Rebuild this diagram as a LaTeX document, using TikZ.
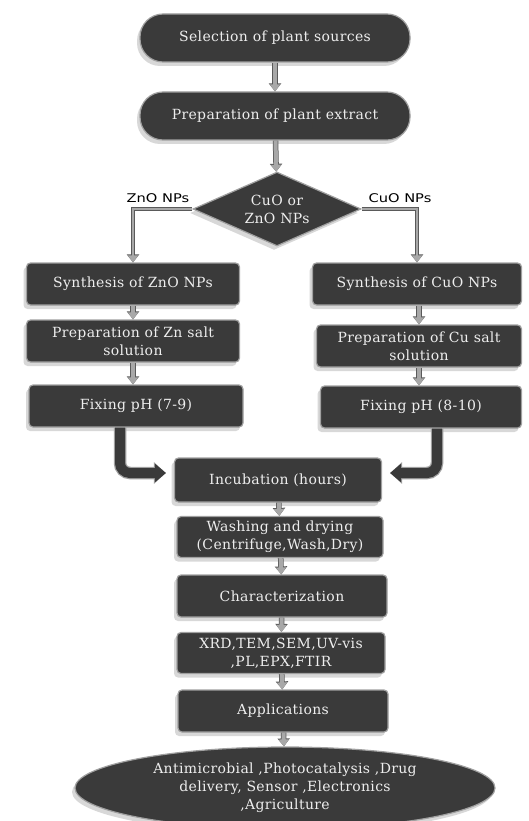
\documentclass[tikz,border=0pt]{standalone}
\usepackage{fontspec}
\setmainfont[LetterSpace=2.5]{DejaVu Serif}
\newfontfamily\labelfont[FakeStretch=1.22]{DejaVu Sans}
\usetikzlibrary{shapes.geometric,arrows.meta,shadows,calc}
\definecolor{boxfill}{HTML}{3A3A3A}
\definecolor{boxrim}{HTML}{A0A0A0}
\definecolor{txt}{HTML}{EEEEEE}
\definecolor{arrowfill}{HTML}{A8A8A8}
\definecolor{arrowline}{HTML}{5A5A5A}
\begin{document}
\begin{tikzpicture}[x=1pt,y=-1pt,
  base/.style={fill=boxfill, draw=boxrim, line width=1.2pt, text=txt,
    font=\fontsize{14}{18}\selectfont, align=center, inner sep=2pt,
    drop shadow={shadow xshift=-3pt,shadow yshift=-4pt,opacity=0.3,fill=gray}},
  box/.style={base, rectangle, rounded corners=4pt, minimum height=42pt},
  stadium/.style={base, rectangle, rounded corners=23pt, minimum width=270pt, minimum height=48pt},
  flow/.style={line width=4pt, draw=arrowfill, -{Triangle[length=7pt,width=10pt]},
    preaction={draw=arrowline, line width=5.5pt, -{Triangle[length=8pt,width=12pt]}}},
  thinflow/.style={line width=2.5pt, draw=arrowfill, -{Triangle[length=7pt,width=10pt]},
    preaction={draw=arrowline, line width=4pt, -{Triangle[length=8pt,width=12pt]}}},
  bigflow/.style={line width=10pt, draw=boxfill, rounded corners=10pt, -{Triangle[length=11pt,width=18pt]},
    preaction={draw=boxrim, line width=12.5pt, -{Triangle[length=12pt,width=21pt]}}},
  lab/.style={font=\labelfont\fontsize{12}{14}\selectfont, text=black}
]
\clip (0,0) rectangle (528,821);
\fill[white] (0,0) rectangle (528,821);

\node[stadium] (sel) at (275,38) {Selection of plant sources};
\node[stadium] (prep) at (275,116) {Preparation of plant extract};
\node[base, diamond, aspect=2.27, minimum width=168pt, minimum height=74pt, inner sep=0pt] (dia) at (277,209) {CuO or\\ZnO NPs};

\node[box, minimum width=213pt] (zno) at (133,284) {Synthesis of ZnO NPs};
\node[box, minimum width=209pt] (cuo) at (417,284) {Synthesis of CuO NPs};
\node[box, minimum width=213pt] (znsalt) at (133,341) {Preparation of Zn salt\\solution};
\node[box, minimum width=205pt] (cusalt) at (419,346) {Preparation of Cu salt\\solution};
\node[box, minimum width=214pt] (ph1) at (136,406) {Fixing pH (7-9)};
\node[box, minimum width=201pt] (ph2) at (421,407) {Fixing pH (8-10)};

\node[box, minimum width=207pt, minimum height=44pt] (inc) at (278,480) {Incubation (hours)};
\node[box, minimum width=206pt, minimum height=41pt] (wash) at (280,537) {Washing and drying\\(Centrifuge,Wash,Dry)};
\node[box, minimum width=210pt] (char) at (282,596) {Characterization};
\node[box, minimum width=208pt, minimum height=41pt] (xrd) at (281,653) {XRD,TEM,SEM,UV-vis\\,PL,EPX,FTIR};
\node[box, minimum width=210pt] (app) at (283,711) {Applications};
\node[base, ellipse, minimum width=420pt, minimum height=82pt, inner sep=0pt] (uses) at (285,788)
  {Antimicrobial ,Photocatalysis ,Drug\\delivery, Sensor ,Electronics\\,Agriculture};

\node[lab] (lz) at (158,198) {ZnO NPs};
\node[lab] (lc) at (400,198) {CuO NPs};

\draw[flow] (sel) -- (prep);
\draw[flow] (prep) -- (dia);
\draw[thinflow] (dia.west) -| (zno.north);
\draw[thinflow] (dia.east) -| (cuo.north);
\draw[flow] (zno.south -| znsalt.north) -- (znsalt.north);
\draw[flow] (znsalt) -- (ph1.north -| znsalt.south);
\draw[flow] (cuo.south -| cusalt.north) -- (cusalt.north);
\draw[flow] (cusalt) -- (ph2.north -| cusalt.south);
\draw[bigflow] ($(ph1.south)+(-16,0)$) |- ($(inc.west)+(-8,-7)$);
\draw[bigflow] ($(ph2.south)+(16,0)$) |- ($(inc.east)+(8,-7)$);
\draw[flow] (inc) -- (wash);
\draw[flow] (wash) -- (char);
\draw[flow] (char) -- (xrd);
\draw[flow] (xrd) -- (app);
\draw[flow] (app) -- (uses);
\end{tikzpicture}
\end{document}
